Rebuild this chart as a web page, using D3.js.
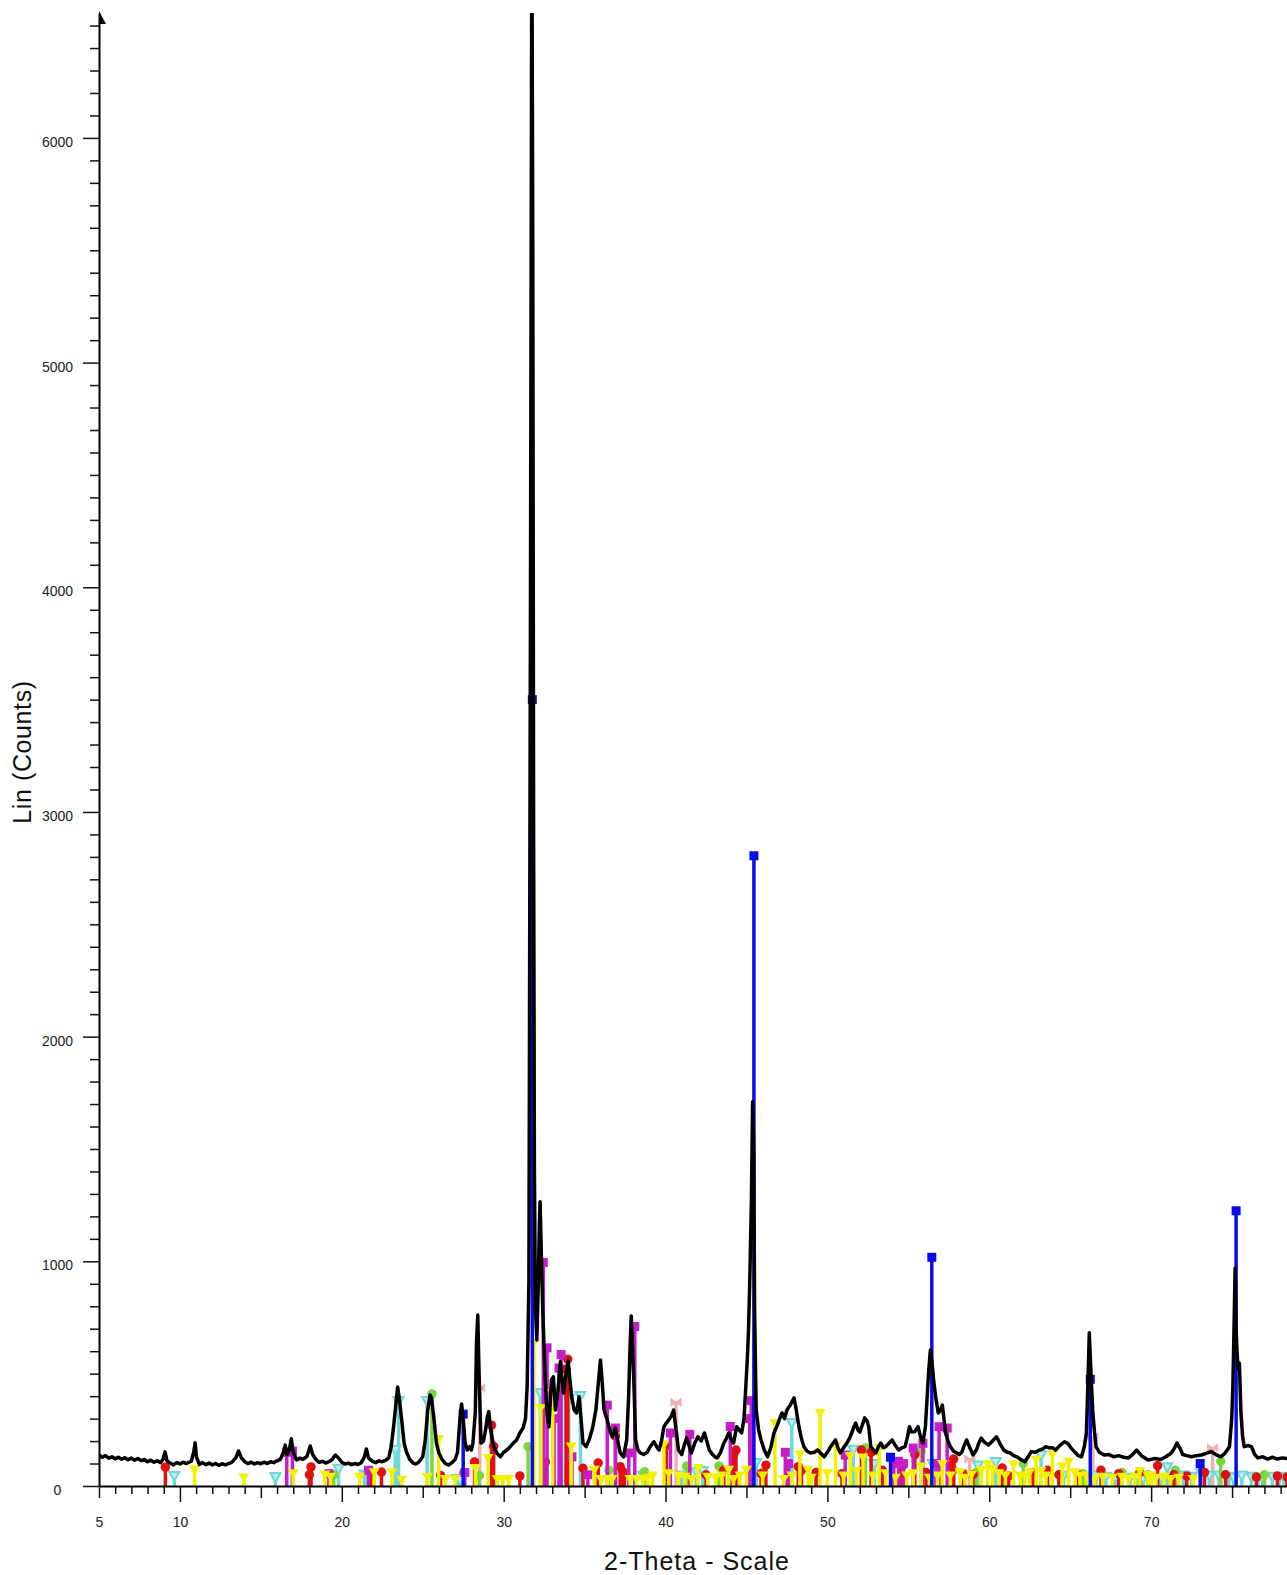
<!DOCTYPE html>
<html>
<head>
<meta charset="utf-8">
<script src="https://cdn.jsdelivr.net/npm/d3@7"></script>
<style>
  body { margin: 0; background: #fff; }
  svg { display: block; }
  text { font-family: "Liberation Sans", Arial, sans-serif; fill: #222; }
</style>
</head>
<body>
<div id="xrd"></div>
<script>
// measured pattern, [2-theta, counts]
var pattern = [
  [5.0,138],[5.2,128],[5.4,135],[5.6,124],[5.8,130],[6.0,121],[6.2,128],[6.4,119],[6.6,126],[6.8,117],
  [7.0,124],[7.2,115],[7.4,122],[7.6,113],[7.8,118],[8.0,108],[8.2,115],[8.4,106],[8.6,112],[8.8,104],
  [8.95,118],[9.08,152],[9.2,112],[9.4,102],[9.6,94],[9.8,104],[10.0,98],[10.2,106],[10.4,100],[10.7,110],
  [10.85,150],[10.94,192],[11.02,130],[11.2,96],[11.4,104],[11.6,95],[11.8,102],[12.0,94],[12.2,100],[12.4,92],
  [12.6,99],[12.8,94],[13.0,100],[13.2,105],[13.45,125],[13.62,156],[13.8,125],[14.0,108],[14.2,100],[14.4,106],
  [14.6,98],[14.8,104],[15.0,99],[15.2,106],[15.4,100],[15.6,108],[15.8,104],[16.0,112],[16.2,118],[16.4,150],
  [16.5,182],[16.62,140],[16.75,160],[16.88,210],[17.0,150],[17.2,116],[17.4,124],[17.6,118],[17.85,132],[18.05,178],
  [18.2,140],[18.4,118],[18.6,105],[18.8,110],[19.0,102],[19.2,108],[19.4,118],[19.6,138],[19.75,128],[20.0,106],
  [20.2,98],[20.4,102],[20.6,95],[20.8,100],[21.0,96],[21.2,104],[21.4,130],[21.52,165],[21.65,125],[21.9,110],
  [22.1,104],[22.3,112],[22.5,108],[22.7,114],[22.9,125],[23.05,175],[23.2,264],[23.35,370],[23.45,441],[23.55,390],
  [23.7,294],[23.85,190],[24.0,150],[24.2,118],[24.4,102],[24.6,98],[24.8,110],[25.0,130],[25.15,200],[25.3,330],
  [25.45,405],[25.55,390],[25.7,294],[25.85,190],[26.0,147],[26.2,118],[26.4,100],[26.6,93],[26.8,104],[27.0,118],
  [27.15,150],[27.3,300],[27.4,365],[27.5,300],[27.62,191],[27.75,160],[27.9,175],[28.0,160],[28.1,190],[28.25,330],
  [28.32,636],[28.4,761],[28.48,500],[28.6,191],[28.75,200],[28.88,249],[29.0,310],[29.08,331],[29.2,250],[29.38,175],
  [29.6,145],[29.8,130],[30.0,150],[30.2,160],[30.4,175],[30.6,191],[30.8,205],[31.0,236],[31.2,258],[31.35,300],
  [31.45,442],[31.56,912],[31.66,4080],[31.74,7000],[31.8,5500],[31.85,2900],[31.9,1400],[31.96,800],[32.05,650],[32.14,900],
  [32.2,1150],[32.25,1265],[32.32,1050],[32.42,770],[32.55,500],[32.68,325],[32.8,264],[32.95,472],[33.07,486],[33.2,338],
  [33.35,420],[33.5,553],[33.6,480],[33.7,414],[33.85,500],[33.98,560],[34.08,480],[34.2,397],[34.35,340],[34.5,325],
  [34.66,397],[34.78,300],[34.9,191],[35.1,175],[35.3,210],[35.5,260],[35.7,340],[35.85,460],[35.98,561],[36.08,470],
  [36.2,338],[36.4,294],[36.55,250],[36.7,219],[36.9,258],[37.05,200],[37.2,147],[37.4,130],[37.6,205],[37.72,400],
  [37.8,600],[37.88,757],[37.96,620],[38.04,472],[38.15,205],[38.3,160],[38.45,147],[38.65,140],[38.87,150],[39.05,175],
  [39.28,197],[39.45,175],[39.6,160],[39.75,200],[39.9,264],[40.05,280],[40.2,294],[40.35,310],[40.5,338],[40.65,250],
  [40.8,160],[41.0,140],[41.15,180],[41.3,213],[41.45,180],[41.6,147],[41.8,190],[42.0,219],[42.2,200],[42.4,236],
  [42.55,200],[42.7,160],[42.9,140],[43.05,130],[43.2,125],[43.4,150],[43.6,191],[43.75,210],[43.9,236],[44.05,210],
  [44.2,191],[44.4,264],[44.55,250],[44.7,236],[44.85,300],[44.96,442],[45.05,560],[45.12,681],[45.2,900],[45.3,1250],
  [45.38,1710],[45.45,1500],[45.5,800],[45.6,338],[45.75,250],[45.9,205],[46.1,160],[46.3,130],[46.5,170],[46.7,236],
  [46.9,270],[47.05,300],[47.2,325],[47.35,300],[47.5,338],[47.7,360],[47.85,380],[47.94,392],[48.05,350],[48.24,264],
  [48.4,210],[48.55,175],[48.75,155],[48.96,147],[49.2,150],[49.4,160],[49.6,145],[49.8,130],[50.0,150],[50.2,175],
  [50.35,190],[50.5,205],[50.65,170],[50.8,147],[51.0,170],[51.2,191],[51.35,210],[51.5,236],[51.62,260],[51.75,280],
  [51.88,250],[52.0,240],[52.15,270],[52.3,303],[52.45,290],[52.55,264],[52.68,175],[52.85,160],[53.0,147],[53.15,175],
  [53.3,191],[53.45,170],[53.6,175],[53.8,190],[54.0,205],[54.2,180],[54.4,160],[54.6,170],[54.8,175],[54.95,220],
  [55.07,264],[55.2,240],[55.4,242],[55.6,264],[55.75,220],[55.9,191],[56.05,260],[56.15,380],[56.25,503],[56.36,605],
  [56.45,560],[56.55,480],[56.68,400],[56.85,325],[57.0,340],[57.1,360],[57.2,300],[57.3,236],[57.45,200],[57.6,175],
  [57.8,155],[58.0,147],[58.15,140],[58.3,150],[58.45,180],[58.6,205],[58.8,170],[59.0,138],[59.2,160],[59.35,190],
  [59.5,213],[59.7,195],[59.95,182],[60.2,200],[60.45,219],[60.65,190],[60.9,160],[61.1,150],[61.3,147],[61.5,135],
  [61.7,130],[61.95,118],[62.2,108],[62.4,130],[62.6,153],[62.85,150],[63.1,160],[63.3,165],[63.5,175],[63.7,170],
  [63.95,169],[64.1,160],[64.35,180],[64.64,197],[64.85,190],[65.05,170],[65.3,150],[65.5,135],[65.7,130],[65.87,175],
  [66.0,236],[66.1,472],[66.18,682],[66.25,560],[66.32,442],[66.4,325],[66.5,240],[66.6,175],[66.8,150],[67.1,138],
  [67.4,140],[67.7,130],[68.0,135],[68.3,128],[68.6,125],[68.85,140],[69.1,160],[69.4,135],[69.8,116],[70.2,122],
  [70.6,118],[70.9,130],[71.25,147],[71.45,170],[71.6,191],[71.8,165],[71.95,140],[72.2,135],[72.5,130],[72.8,135],
  [73.1,138],[73.4,145],[73.7,153],[74.0,140],[74.3,130],[74.55,145],[74.84,175],[74.98,300],[75.05,442],[75.12,700],
  [75.19,969],[75.25,700],[75.3,605],[75.38,520],[75.45,547],[75.55,325],[75.65,220],[75.75,175],[76.0,180],[76.2,175],
  [76.4,140],[76.6,125],[76.9,130],[77.2,120],[77.5,128],[77.8,120],[78.1,125],[78.5,122]
];

// reference phase lines, [2-theta, counts]
var bluePeaks = [[27.5,320],[31.77,3500],[45.46,2805],[53.9,128],[56.45,1018],[66.24,475],[73.03,100],[75.25,1225]];
var magentaPeaks = [[16.6,150],[16.95,155],[19.2,55],[21.65,70],[27.6,60],[32.45,995],[32.68,615],[33.12,300],
  [33.42,525],[33.55,585],[34.22,130],[35.2,50],[36.4,360],[36.9,258],[37.73,147],[38.1,710],[40.3,236],[41.5,230],
  [44.0,265],[45.2,300],[45.3,380],[47.4,150],[47.6,100],[51.1,138],[54.1,100],[54.4,110],[54.7,100],[55.3,169],
  [55.9,190],[56.7,100],[56.9,264],[57.4,258]];
var redPeaks = [[9.1,84],[18.0,50],[18.1,85],[21.8,55],[22.45,62],[26.1,47],[27.55,60],[28.2,107],[29.25,271],
  [29.38,177],[31.0,45],[32.58,107],[33.85,520],[33.96,564],[34.9,79],[35.84,103],[36.91,222],[37.2,86],[37.35,65],
  [37.45,50],[40.05,180],[42.5,50],[43.6,70],[44.2,140],[44.35,160],[45.9,55],[46.2,93],[48.2,86],[48.4,70],[49.3,60],
  [50.9,55],[52.1,160],[52.7,150],[53.4,70],[54.6,86],[55.4,140],[56.1,60],[57.65,90],[57.8,120],[58.4,55],[59.0,50],
  [60.8,80],[61.2,45],[62.7,60],[63.6,70],[64.3,50],[65.5,50],[66.9,70],[68.0,55],[69.3,60],[70.4,90],[71.4,50],
  [72.2,45],[73.3,60],[74.6,50],[76.5,40],[77.8,45],[78.4,40]];
var yellowPeaks = [[10.9,87],[13.95,51],[17.0,70],[18.95,65],[19.3,55],[21.1,55],[22.0,75],[23.1,75],[23.7,41],
  [25.3,53],[25.98,222],[26.4,45],[27.0,44],[28.25,93],[29.04,138],[29.6,45],[29.95,45],[30.3,45],[31.87,650],
  [32.3,360],[33.03,427],[34.17,189],[35.6,86],[36.0,45],[36.4,45],[36.7,45],[37.8,45],[38.2,45],[38.6,45],[38.9,50],
  [39.2,60],[39.9,197],[40.2,70],[40.8,60],[41.2,55],[41.6,45],[42.0,93],[42.6,55],[43.1,50],[43.5,60],[43.9,86],
  [44.2,45],[44.6,60],[45.0,86],[46.0,60],[46.76,294],[47.3,45],[47.8,60],[48.3,153],[48.8,86],[49.0,50],[49.55,338],
  [50.0,70],[50.5,191],[51.0,60],[51.4,147],[51.8,80],[52.2,140],[52.8,60],[53.2,182],[53.6,70],[54.2,50],[54.9,60],
  [55.3,70],[55.8,100],[56.3,50],[56.8,60],[57.1,111],[57.6,60],[58.2,75],[58.5,50],[58.9,65],[59.5,85],[59.9,110],
  [60.2,90],[60.6,70],[61.0,60],[61.5,110],[61.9,60],[62.2,55],[62.5,75],[62.9,130],[63.2,80],[63.5,60],[63.9,153],
  [64.5,100],[64.9,121],[65.3,75],[65.6,60],[66.0,60],[66.5,45],[67.0,55],[67.6,50],[68.2,55],[68.6,45],[69.0,55],
  [69.3,80],[69.8,60],[70.0,60],[70.3,50],[70.8,55],[71.2,45],[71.7,50],[72.6,45]];
var cyanPeaks = [[9.65,58],[15.9,53],[19.8,90],[21.4,64],[21.6,60],[23.3,175],[23.51,392],[25.27,392],[27.1,45],
  [27.3,40],[32.27,427],[34.02,400],[34.74,414],[38.6,60],[41.0,60],[41.9,75],[42.3,80],[45.6,116],[47.8,294],
  [51.6,175],[52.9,111],[56.5,111],[59.3,105],[60.4,120],[63.2,150],[64.6,60],[66.6,60],[67.2,55],[67.8,50],[68.7,50],
  [69.1,50],[69.5,45],[70.0,55],[70.6,50],[71.0,97],[72.0,60],[72.5,55],[73.1,70],[73.6,60],[74.2,60],[74.8,55],
  [75.1,50],[75.6,60],[76.2,55],[76.6,45],[76.9,50],[77.5,55],[77.9,50],[78.2,50],[78.4,55]];
var greenPeaks = [[19.5,50],[25.57,410],[28.5,47],[31.51,175],[36.5,70],[38.7,64],[41.3,89],[43.3,89],[46.0,60],
  [52.35,169],[55.8,155],[57.8,70],[59.2,60],[62.1,100],[65.8,55],[68.2,60],[69.8,50],[71.5,70],[74.3,110],[77.0,50]];
var pinkPeaks = [[28.52,436],[40.65,373],[58.8,120],[66.4,219],[73.8,170]];

var xTickLabels = [5, 10, 20, 30, 40, 50, 60, 70];
var yTickLabels = [0, 1000, 2000, 3000, 4000, 5000, 6000];

var width = 1287, height = 1575;

var svg = d3.select("#xrd")
    .append("svg")
    .attr("width", width)
    .attr("height", height);

var x = d3.scaleLinear().domain([5, 80]).range([99, 1313]);
var y = d3.scaleLinear().domain([0, 6556]).range([1486, 13]);

svg.append("clipPath").attr("id", "plotclip")
    .append("rect")
    .attr("x", x(5)).attr("y", y(6556))
    .attr("width", width - x(5)).attr("height", y(0) - y(6556) + 2);

// phase sticks
function renderSticks(data, color, shape) {
    var g = svg.append("g").attr("clip-path", "url(#plotclip)");
    g.selectAll("line")
        .data(data)
        .enter().append("line")
        .attr("x1", function(d) { return x(d[0]); })
        .attr("x2", function(d) { return x(d[0]); })
        .attr("y1", y(0))
        .attr("y2", function(d) { return y(d[1]); })
        .attr("stroke", color)
        .attr("stroke-width", 3.5);

    var m = g.selectAll("path")
        .data(data)
        .enter().append("path")
        .attr("transform", function(d) { return "translate(" + x(d[0]) + "," + y(d[1]) + ")"; });

    if (shape == "square") {
        m.attr("d", "M-4.5,-4.5H4.5V4.5H-4.5Z").attr("fill", color);
    } else if (shape == "circle") {
        m.attr("d", d3.symbol().type(d3.symbolCircle).size(70)).attr("fill", color);
    } else if (shape == "tri") {
        m.attr("d", "M-5.5,-1L5.5,-1L0,8Z").attr("fill", color);
    } else if (shape == "ytri") {
        m.attr("d", "M-5,-1L5,-1L0,8Z").attr("fill", "#bdeeee")
            .attr("stroke", color).attr("stroke-width", 2);
    } else if (shape == "bowtie") {
        m.attr("d", "M-5,-4L5,4L5,-4L-5,4Z").attr("fill", color)
            .attr("stroke", color).attr("stroke-width", 1);
    }
}

renderSticks(pinkPeaks, "#f0b0b0", "bowtie");
renderSticks(cyanPeaks, "#6ed8d8", "ytri");
renderSticks(greenPeaks, "#7ad63a", "circle");
renderSticks(redPeaks, "#e01010", "circle");
renderSticks(magentaPeaks, "#c61ec6", "square");
renderSticks(yellowPeaks, "#f2f200", "tri");
renderSticks(bluePeaks, "#0a0aee", "square");

// measured curve
svg.append("path")
    .datum(pattern)
    .attr("clip-path", "url(#plotclip)")
    .attr("fill", "none")
    .attr("stroke", "#000")
    .attr("stroke-width", 3.5)
    .attr("stroke-linejoin", "round")
    .attr("d", d3.line()
        .x(function(d) { return x(d[0]); })
        .y(function(d) { return y(d[1]); })
    );

// x axis
function xAxis(values, size) {
    var g = svg.append("g")
        .attr("transform", "translate(0," + y(0) + ")")
        .call(d3.axisBottom(x).tickValues(values).tickSize(size).tickSizeOuter(0).tickFormat(d3.format("d")));
    g.select(".domain").remove();
    g.selectAll("line").attr("stroke", "#111").attr("stroke-width", 1.5);
    g.selectAll("text").attr("y", 31).style("font-size", "14px").style("fill", "#222");
    return g;
}
var minorX = d3.range(6, 80).filter(function(v) { return v % 5 != 0; });
xAxis(minorX, 8).selectAll("text").remove();
xAxis([15, 25, 35, 45, 55, 65, 75], 12).selectAll("text").remove();
xAxis([5], 12);
xAxis(xTickLabels.slice(1), 16);

svg.append("g")
    .attr("transform", "translate(0," + y(0) + ")")
    .call(d3.axisBottom(x).tickValues([]).tickSizeOuter(0))
    .select(".domain").attr("stroke", "#000").attr("stroke-width", 2);

// y axis
var minorY = d3.range(100, 6600, 100).filter(function(v) { return v % 1000 != 0; });
var gMinorY = svg.append("g")
    .attr("transform", "translate(" + x(5) + ",0)")
    .call(d3.axisLeft(y).tickValues(minorY).tickSize(9).tickFormat(""));
gMinorY.select(".domain").remove();
gMinorY.selectAll("line").attr("stroke", "#111").attr("stroke-width", 1.5);

var gY = svg.append("g")
    .attr("transform", "translate(" + x(5) + ",0)")
    .call(d3.axisLeft(y).tickValues(yTickLabels).tickSize(16).tickSizeOuter(0).tickFormat(d3.format("d")));
gY.select(".domain").attr("stroke", "#000").attr("stroke-width", 2);
gY.selectAll("line").attr("stroke", "#111").attr("stroke-width", 1.5);
gY.selectAll("text")
    .attr("x", -41.5)
    .attr("dy", "0.6em")
    .attr("text-anchor", "middle")
    .style("font-size", "14px")
    .style("fill", "#222");

// arrow at the top of the y axis
svg.append("path")
    .attr("d", "M" + x(5) + "," + (y(6556) - 2) + "L" + (x(5) + 7) + "," + (y(6556) + 11) + "L" + x(5) + "," + (y(6556) + 11) + "Z")
    .attr("fill", "#000");

// titles
svg.append("text")
    .attr("text-anchor", "middle")
    .attr("x", 697)
    .attr("y", 1570)
    .style("font-size", "25px")
    .style("letter-spacing", "1px")
    .style("fill", "#111")
    .text("2-Theta - Scale");

svg.append("text")
    .attr("text-anchor", "middle")
    .attr("transform", "translate(31,752) rotate(-90)")
    .style("font-size", "25px")
    .style("letter-spacing", "0.6px")
    .style("fill", "#111")
    .text("Lin (Counts)");
</script>
</body>
</html>
